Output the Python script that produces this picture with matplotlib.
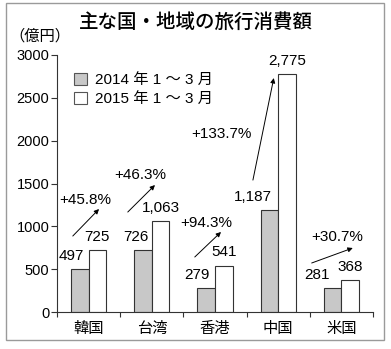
import matplotlib
matplotlib.use('Agg')
import matplotlib.pyplot as plt
from matplotlib.patches import Patch, Rectangle
import numpy as np

plt.rcParams['font.family'] = ['Liberation Sans', 'Noto Sans CJK JP', 'DejaVu Sans']

# Travel spending by country/region (100 million yen), Jan-Mar
regions = ['韓国', '台湾', '香港', '中国', '米国']
spend_2014 = [497, 726, 279, 1187, 281]
spend_2015 = [725, 1063, 541, 2775, 368]
value_labels_2014 = ['497', '726', '279', '1,187', '281']
value_labels_2015 = ['725', '1,063', '541', '2,775', '368']
growth_labels = ['+45.8%', '+46.3%', '+94.3%', '+133.7%', '+30.7%']
legend_labels = ['2014 年 1 ～ 3 月', '2015 年 1 ～ 3 月']

# annotation layout (data coords)
label_shift_2014 = [-6.5, -5, -7, -12, -11]   # points, to keep labels clear of arrows
arrow_tail = [(-0.25, 887), (0.62, 1167), (1.68, 642), (2.60, 1540), (3.53, 572)]
arrow_head = [(0.165, 1202), (1.05, 1482), (2.095, 934), (2.93, 2731), (4.18, 747)]
growth_pos = [(-0.06, 1307), (0.82, 1599), (1.86, 1039), (2.10, 2077), (3.94, 875)]

fig = plt.figure(figsize=(3.91, 3.49), dpi=100)
fig.patches.append(Rectangle((6 / 391, 1 - 340 / 349), 378 / 391, 337 / 349,
                             transform=fig.transFigure, fill=False,
                             edgecolor='#9a9a9a', linewidth=1.0))

ax = fig.add_axes([57 / 391, 1 - 312 / 349, 316 / 391, 257 / 349])

x = np.arange(len(regions))
w = 0.277
ax.bar(x - w / 2, spend_2014, w, color='#c8c8c8', edgecolor='#333333', linewidth=0.8)
ax.bar(x + w / 2, spend_2015, w, color='white', edgecolor='#333333', linewidth=0.8)

for i in range(len(regions)):
    ax.annotate(value_labels_2014[i], (x[i] - w / 2, spend_2014[i]),
                xytext=(label_shift_2014[i], 9.5), textcoords='offset points',
                ha='center', va='center', fontsize=11)
    ax.annotate(value_labels_2015[i], (x[i] + w / 2, spend_2015[i]),
                xytext=(0, 9.5), textcoords='offset points',
                ha='center', va='center', fontsize=11)
    ax.annotate('', xy=arrow_head[i], xytext=arrow_tail[i],
                arrowprops=dict(arrowstyle='-|>', color='black', lw=0.7,
                                mutation_scale=7, shrinkA=0, shrinkB=0))
    ax.text(growth_pos[i][0], growth_pos[i][1], growth_labels[i],
            ha='center', va='center', fontsize=11)

ax.set_xlim(-0.5, len(regions) - 0.5)
ax.set_ylim(0, 3000)
ax.set_yticks([0, 500, 1000, 1500, 2000, 2500, 3000])
ax.set_xticks(x)
ax.set_xticklabels(regions, fontsize=11)
ax.set_xticks(np.arange(len(regions) + 1) - 0.5, minor=True)
ax.tick_params(axis='x', which='major', length=0, pad=7)
ax.tick_params(axis='x', which='minor', length=3.5, width=0.8, color='#333333', direction='out')
ax.tick_params(axis='y', length=4.5, width=0.8, color='#333333', pad=1, labelsize=10.5)

for side in ['top', 'right']:
    ax.spines[side].set_visible(False)
for side in ['left', 'bottom']:
    ax.spines[side].set_linewidth(0.8)
    ax.spines[side].set_color('#333333')

handles = [Patch(facecolor='#c8c8c8', edgecolor='#555555', linewidth=0.8),
           Patch(facecolor='white', edgecolor='#555555', linewidth=0.8)]
ax.legend(handles, legend_labels, loc='upper left', bbox_to_anchor=(0.03, 0.96),
          frameon=False, fontsize=11, handlelength=0.85, handleheight=0.85,
          handletextpad=0.5, labelspacing=0.3, borderpad=0)

fig.text(196 / 391, 1 - 22 / 349, '主な国・地域の旅行消費額', ha='center', va='center',
         fontsize=14, fontweight='medium')
fig.text(9 / 391, 1 - 36 / 349, '（億円）', ha='left', va='center', fontsize=11)

fig.savefig('out.png', dpi=100)
